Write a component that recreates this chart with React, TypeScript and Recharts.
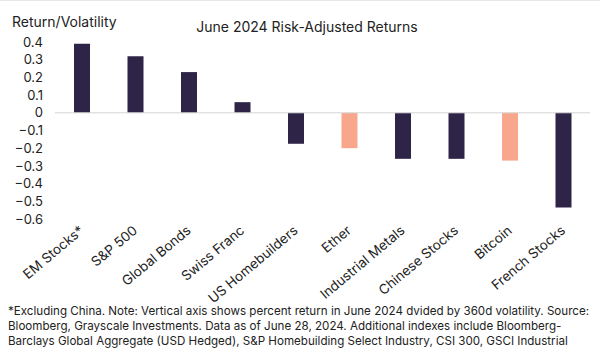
import React from "react";
import { BarChart, Bar, XAxis, YAxis, ReferenceLine, Cell } from "recharts";

const categories = [
  "EM Stocks*", "S&P 500", "Global Bonds", "Swiss Franc", "US Homebuilders",
  "Ether", "Industrial Metals", "Chinese Stocks", "Bitcoin", "French Stocks",
];
const returnVol = [0.39, 0.32, 0.23, 0.06, -0.175, -0.2, -0.26, -0.26, -0.27, -0.535];
const cryptoAssets = ["Ether", "Bitcoin"];
const yTicks = [-0.6, -0.5, -0.4, -0.3, -0.2, -0.1, 0, 0.1, 0.2, 0.3, 0.4];
const footnote = [
  "*Excluding China. Note: Vertical axis shows percent return in June 2024 dvided by 360d volatility. Source:",
  "Bloomberg, Grayscale Investments. Data as of June 28, 2024. Additional indexes include Bloomberg-",
  "Barclays Global Aggregate (USD Hedged), S&P Homebuilding Select Industry, CSI 300, GSCI Industrial",
];

const data = categories.map((name, i) => ({ name, value: returnVol[i] }));

const FONT = "Inter, 'Noto Sans', sans-serif";
const NAVY = "#2D2447";
const SALMON = "#F8A78C";

function AngledTick({ x, y, payload }: any) {
  const ax = x + 3;
  const ay = y + 5;
  return (
    <text
      x={ax}
      y={ay}
      textAnchor="end"
      fontSize={13.5}
      fontFamily={FONT}
      fill="#222"
      transform={`rotate(-40, ${ax}, ${ay})`}
    >
      {payload.value}
    </text>
  );
}

const fmt = (v: number) => (v === 0 ? "0" : v.toFixed(1).replace("-", "−"));

export default function App() {
  return (
    <div
      style={{
        position: "absolute", left: 0, top: 0, width: 600, height: 356,
        background: "#fff", fontFamily: FONT, color: "#222", overflow: "hidden",
        borderTop: "1px solid #e8e8e8", boxSizing: "border-box",
      }}
    >
      <div style={{ position: "absolute", left: 12, top: 12, fontSize: 14 }}>Return/Volatility</div>
      <div style={{ position: "absolute", left: 0, width: 614, top: 17, fontSize: 14, textAlign: "center" }}>
        June 2024 Risk-Adjusted Returns
      </div>
      <BarChart
        width={600}
        height={355}
        data={data}
        margin={{ top: 41, right: 10, left: 0, bottom: 55 }}
        barSize={16}
      >
        <XAxis
          dataKey="name"
          interval={0}
          axisLine={false}
          tickLine={false}
          height={82}
          tick={<AngledTick />}
        />
        <YAxis
          width={55}
          domain={[-0.6, 0.4]}
          ticks={yTicks}
          interval={0}
          axisLine={false}
          tickLine={false}
          tickSize={0}
          tickMargin={12}
          tickFormatter={fmt}
          tick={{ fontSize: 13, fill: "#222", fontFamily: FONT }}
        />
        <ReferenceLine y={0} stroke="#d4d4d4" strokeWidth={1} />
        <Bar dataKey="value" isAnimationActive={false}>
          {data.map((d) => (
            <Cell key={d.name} fill={cryptoAssets.includes(d.name) ? SALMON : NAVY} />
          ))}
        </Bar>
      </BarChart>
      <div
        style={{
          position: "absolute", left: 8, top: 303, fontSize: 11.6, lineHeight: "15px",
          whiteSpace: "nowrap",
        }}
      >
        {footnote.map((l) => (
          <div key={l}>{l}</div>
        ))}
      </div>
    </div>
  );
}
